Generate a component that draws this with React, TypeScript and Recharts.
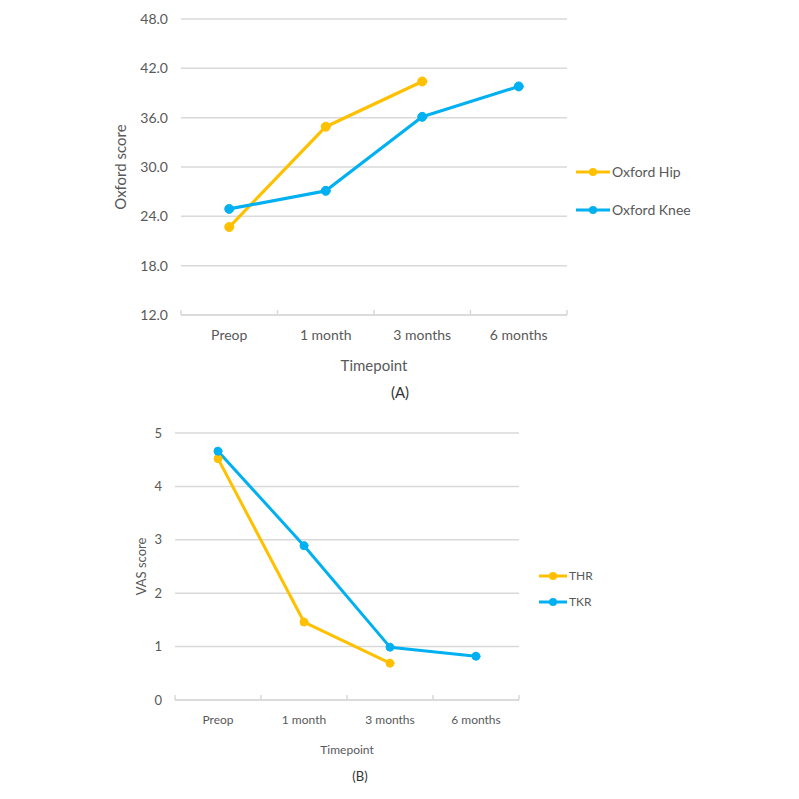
import React from 'react';
import { LineChart, Line, XAxis, YAxis, CartesianGrid, Legend } from 'recharts';

const categories = ['Preop', '1 month', '3 months', '6 months'];
const oxfordHip = [22.7, 34.9, 40.4, null];
const oxfordKnee = [24.9, 27.1, 36.1, 39.8];
const oxfordTicks = [12, 18, 24, 30, 36, 42, 48];
const thr = [4.52, 1.46, 0.69, null];
const tkr = [4.66, 2.89, 0.99, 0.82];
const vasTicks = [0, 1, 2, 3, 4, 5];
const axisTicks = [-0.5, 0, 0.5, 1, 1.5, 2, 2.5, 3, 3.5];

const dataA = categories.map((c, i) => ({ idx: i, cat: c, hip: oxfordHip[i], knee: oxfordKnee[i] }));
const dataB = categories.map((c, i) => ({ idx: i, cat: c, thr: thr[i], tkr: tkr[i] }));

const FONT = 'Lato, "Open Sans", sans-serif';
const TEXT = '#595959';
const GRID = '#D9D9D9';
const ORANGE = '#FFC000';
const BLUE = '#00B0F0';

const makeTick = (fontSize: number, labelDy: number) => (props: any) => {
  const { x, y, payload } = props;
  const v = payload.value;
  if (Number.isInteger(v)) {
    return (
      <text x={x} y={y + labelDy} textAnchor="middle" fontSize={fontSize} fill={TEXT} fontFamily={FONT}>
        {categories[v]}
      </text>
    );
  }
  return <line x1={x} x2={x} y1={y - 5} y2={y} stroke={GRID} strokeWidth={1.5} />;
};

const makeLegend = (fontSize: number, rowH: number, lineLen: number, pad: number) => (props: any) => {
  const { payload } = props;
  return (
    <div style={{ paddingLeft: pad }}>
      {(payload || []).map((entry: any) => (
        <div key={entry.value} style={{ display: 'flex', alignItems: 'center', height: rowH }}>
          <svg width={lineLen} height={12} style={{ display: 'block' }}>
            <line x1={0} x2={lineLen} y1={6} y2={6} stroke={entry.color} strokeWidth={3} />
            <circle cx={lineLen / 2} cy={6} r={4} fill={entry.color} />
          </svg>
          <span style={{ fontSize, color: TEXT, fontFamily: FONT, marginLeft: 2, lineHeight: 1 }}>{entry.value}</span>
        </div>
      ))}
    </div>
  );
};

export default function App() {
  return (
    <div style={{ position: 'absolute', left: 0, top: 0, width: 799, height: 799, background: '#fff' }}>
      <div style={{ position: 'absolute', left: 0, top: 0 }}>
        <LineChart width={799} height={400} data={dataA} margin={{ top: 19, right: 52, bottom: 0, left: 0 }}>
          <CartesianGrid vertical={false} stroke={GRID} strokeWidth={1.5} />
          <XAxis
            dataKey="idx"
            type="number"
            domain={[-0.5, 3.5]}
            ticks={axisTicks}
            interval={0}
            tickLine={false}
            tickSize={0}
            tickMargin={0}
            height={85}
            axisLine={{ stroke: GRID, strokeWidth: 1.5 }}
            tick={makeTick(14, 25)}
            label={{ value: 'Timepoint', position: 'insideBottom', offset: 29, fill: TEXT, fontSize: 15, fontFamily: FONT }}
          />
          <YAxis
            type="number"
            domain={[12, 48]}
            ticks={oxfordTicks}
            width={181}
            axisLine={false}
            tickLine={false}
            tickSize={0}
            tickMargin={13}
            tickFormatter={(v: number) => v.toFixed(1)}
            tick={{ fill: TEXT, fontSize: 14, fontFamily: FONT }}
            label={{ value: 'Oxford score', angle: -90, position: 'insideLeft', offset: 121, fill: TEXT, fontSize: 15, fontFamily: FONT, style: { textAnchor: 'middle' } }}
          />
          <Legend
            layout="vertical"
            align="right"
            verticalAlign="middle"
            wrapperStyle={{ top: 153, left: 567, width: 180 }}
            content={makeLegend(14, 38, 34, 9)}
          />
          <Line name="Oxford Hip" dataKey="hip" stroke={ORANGE} strokeWidth={3.2} strokeLinecap="round" strokeLinejoin="round" dot={{ r: 4.5, fill: ORANGE, stroke: ORANGE, strokeWidth: 1 }} isAnimationActive={false} />
          <Line name="Oxford Knee" dataKey="knee" stroke={BLUE} strokeWidth={3.2} strokeLinecap="round" strokeLinejoin="round" dot={{ r: 4.5, fill: BLUE, stroke: BLUE, strokeWidth: 1 }} isAnimationActive={false} />
        </LineChart>
      </div>
      <div style={{ position: 'absolute', left: 0, top: 383, width: 799, textAlign: 'center', fontFamily: FONT, fontSize: 15, color: '#333' }}>
        <span style={{ position: 'absolute', left: 400, transform: 'translateX(-50%)' }}>(A)</span>
      </div>

      <div style={{ position: 'absolute', left: 0, top: 400 }}>
        <LineChart width={799} height={399} data={dataB} margin={{ top: 33, right: 100, bottom: 0, left: 0 }}>
          <CartesianGrid vertical={false} stroke={GRID} strokeWidth={1.5} />
          <XAxis
            dataKey="idx"
            type="number"
            domain={[-0.5, 3.5]}
            ticks={axisTicks}
            interval={0}
            tickLine={false}
            tickSize={0}
            tickMargin={0}
            height={99}
            axisLine={{ stroke: GRID, strokeWidth: 1.5 }}
            tick={makeTick(12, 24)}
            label={{ value: 'Timepoint', position: 'insideBottom', offset: 45, fill: TEXT, fontSize: 12, fontFamily: FONT }}
          />
          <YAxis
            type="number"
            domain={[0, 5]}
            ticks={vasTicks}
            width={175}
            axisLine={false}
            tickLine={false}
            tickSize={0}
            tickMargin={13}
            tick={{ fill: TEXT, fontSize: 13, fontFamily: FONT }}
            label={{ value: 'VAS score', angle: -90, position: 'insideLeft', offset: 141, fill: TEXT, fontSize: 13, fontFamily: FONT, style: { textAnchor: 'middle' } }}
          />
          <Legend
            layout="vertical"
            align="right"
            verticalAlign="middle"
            wrapperStyle={{ top: 163, left: 530, width: 180 }}
            content={makeLegend(12, 26, 28, 9)}
          />
          <Line name="THR" dataKey="thr" stroke={ORANGE} strokeWidth={3} strokeLinecap="round" strokeLinejoin="round" dot={{ r: 4, fill: ORANGE, stroke: ORANGE, strokeWidth: 1 }} isAnimationActive={false} />
          <Line name="TKR" dataKey="tkr" stroke={BLUE} strokeWidth={3} strokeLinecap="round" strokeLinejoin="round" dot={{ r: 4, fill: BLUE, stroke: BLUE, strokeWidth: 1 }} isAnimationActive={false} />
        </LineChart>
      </div>
      <div style={{ position: 'absolute', left: 0, top: 768, width: 799, fontFamily: FONT, fontSize: 13, color: '#333' }}>
        <span style={{ position: 'absolute', left: 360, transform: 'translateX(-50%)' }}>(B)</span>
      </div>
    </div>
  );
}
